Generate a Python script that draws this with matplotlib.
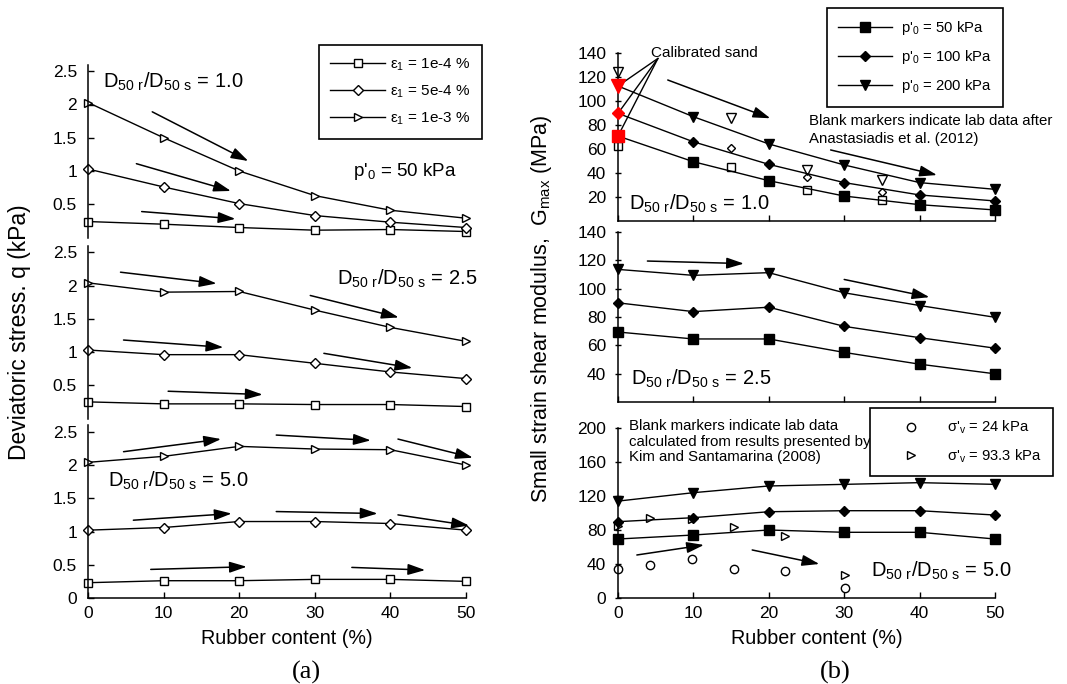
import matplotlib.pyplot as plt
from matplotlib.ticker import FormatStrFormatter

plt.rcParams['font.family'] = ['Liberation Sans', 'DejaVu Sans']
plt.rcParams['mathtext.default'] = 'regular'

rubber = [0, 10, 20, 30, 40, 50]

# deviatoric stress q (kPa), eps1 = 1e-4 / 5e-4 / 1e-3 %
q10_a = [0.24, 0.20, 0.15, 0.11, 0.12, 0.09]
q10_b = [1.03, 0.76, 0.51, 0.33, 0.23, 0.15]
q10_c = [2.03, 1.50, 1.00, 0.63, 0.41, 0.29]
q25_a = [0.25, 0.22, 0.22, 0.21, 0.21, 0.18]
q25_b = [1.03, 0.96, 0.96, 0.83, 0.70, 0.60]
q25_c = [2.04, 1.90, 1.91, 1.63, 1.37, 1.16]
q50_a = [0.23, 0.26, 0.26, 0.28, 0.28, 0.25]
q50_b = [1.02, 1.06, 1.15, 1.15, 1.12, 1.02]
q50_c = [2.04, 2.13, 2.28, 2.24, 2.23, 2.00]

# Gmax (MPa) at p'0 = 50 / 100 / 200 kPa
g10_50 = [70.8, 49.4, 33.6, 20.8, 13.6, 9.2]
g10_100 = [89.7, 66.0, 47.2, 32.0, 21.7, 16.7]
g10_200 = [112.5, 86.9, 64.2, 46.7, 32.0, 26.4]
g25_50 = [69.4, 64.5, 64.5, 55.0, 46.7, 39.9]
g25_100 = [90.0, 83.8, 86.9, 73.4, 65.4, 58.0]
g25_200 = [113.6, 109.4, 111.3, 97.1, 88.1, 79.8]
g50_50 = [69.4, 74.1, 80.0, 77.3, 77.3, 69.4]
g50_100 = [89.8, 94.5, 101.5, 102.7, 102.7, 97.6]
g50_200 = [114.0, 123.9, 131.8, 133.7, 135.7, 133.7]

# lab data, Anastasiadis et al. (2012)
an_x = [0, 15, 25, 35]
an_50 = [62.8, 45.3, 25.8, 17.5]
an_100_x = [15, 25, 35]
an_100 = [60.6, 36.4, 24.4]
an_200 = [124.4, 85.6, 42.5, 34.2]

# lab data, Kim and Santamarina (2008)
kim_x = [0, 4.3, 9.8, 15.4, 22.2, 30.1]
kim_24 = [34.1, 38.8, 45.9, 34.1, 32.2, 12.2]
kim_93 = [84.7, 94.5, 92.6, 83.2, 72.9, 27.1]

W, H = 1067, 684
fig = plt.figure(figsize=(W / 100, H / 100), dpi=100)


def box(x0, x1, ytop, ybot):
    return [x0 / W, 1 - ybot / H, (x1 - x0) / W, (ybot - ytop) / H]


def arrows(ax, segs):
    for (x0, y0), (x1, y1) in segs:
        ax.annotate('', xy=(x1, y1), xytext=(x0, y0), annotation_clip=False,
                    arrowprops=dict(arrowstyle='-|>,head_length=0.75,head_width=0.24',
                                    color='black', lw=1.1, shrinkA=0, shrinkB=0,
                                    mutation_scale=14))


def dlabel(ax, x, y, val, **kw):
    ax.text(x, y, r'D$_{50\ r}$/D$_{50\ s}$ = ' + val, fontsize=14.5, va='baseline', **kw)


# ---------- (a) deviatoric stress ----------
left_boxes = [box(88, 466, 64.6, 237.5), box(88, 466, 245.6, 418.5), box(88, 466, 425.1, 598)]
left_data = [(q10_a, q10_b, q10_c), (q25_a, q25_b, q25_c), (q50_a, q50_b, q50_c)]
left_axes = []
for i, (pos, (qa, qb, qc)) in enumerate(zip(left_boxes, left_data)):
    ax = fig.add_axes(pos)
    ax.set_facecolor('none')
    h1, = ax.plot(rubber, qa, 'k-', marker='s', ms=6, mfc='white', mec='black', mew=1, lw=1, clip_on=False)
    h2, = ax.plot(rubber, qb, 'k-', marker='D', ms=4.8, mfc='white', mec='black', mew=1, lw=1, clip_on=False)
    h3, = ax.plot(rubber, qc, 'k-', marker='>', ms=6.3, mfc='white', mec='black', mew=1, lw=1, clip_on=False)
    ax.set_xlim(0, 50)
    ax.set_ylim(0, 2.6)
    ax.spines['top'].set_visible(False)
    ax.spines['right'].set_visible(False)
    for s in ax.spines.values():
        s.set_linewidth(1.1)
    ax.yaxis.set_major_formatter(FormatStrFormatter('%g'))
    ax.tick_params(axis='y', direction='in', length=4, width=1, labelsize=12.5, pad=8)
    if i < 2:
        ax.set_yticks([0.5, 1, 1.5, 2, 2.5])
        ax.spines['bottom'].set_visible(False)
        ax.set_xticks([])
    else:
        ax.set_yticks([0, 0.5, 1, 1.5, 2, 2.5])
        ax.set_xticks(rubber)
        ax.tick_params(axis='x', direction='in', length=4, width=1, labelsize=12.5, pad=6)
    left_axes.append(ax)
    if i == 0:
        leg_handles = [h1, h2, h3]

axa, axb, axc = left_axes
dlabel(axa, 2.0, 2.25, '1.0')
axa.text(35.1, 0.93, r"p'$_0$ = 50 kPa", fontsize=13.5, va='baseline')
arrows(axa, [((8.5, 1.89), (21.2, 1.15)), ((6.4, 1.11), (18.9, 0.70)), ((7.1, 0.39), (19.5, 0.28))])

dlabel(axb, 32.9, 2.01, '2.5')
arrows(axb, [((4.3, 2.20), (17.0, 2.03)), ((29.4, 1.85), (41.1, 1.52)), ((4.7, 1.18), (17.9, 1.07)),
             ((31.2, 0.98), (42.9, 0.76)), ((10.6, 0.41), (23.1, 0.36))])

dlabel(axc, 2.6, 1.67, '5.0')
arrows(axc, [((4.7, 2.20), (17.6, 2.39)), ((24.9, 2.45), (37.4, 2.37)), ((41.0, 2.39), (50.9, 2.11)),
             ((6.0, 1.17), (19.0, 1.27)), ((24.9, 1.30), (38.3, 1.27)), ((41.0, 1.25), (50.4, 1.09)),
             ((8.3, 0.43), (21.0, 0.47)), ((34.9, 0.46), (44.6, 0.42))])

leg = fig.legend(leg_handles, [r'ε$_1$ = 1e-4 %', r'ε$_1$ = 5e-4 %', r'ε$_1$ = 1e-3 %'],
                 loc='upper left', bbox_to_anchor=(319 / W, 1 - 45 / H), fontsize=11,
                 fancybox=False, edgecolor='black', framealpha=1, handlelength=3.6,
                 handletextpad=0.3, labelspacing=0.7, borderpad=0.75, borderaxespad=0)
leg.get_frame().set_linewidth(1.2)

fig.text(20 / W, 1 - 332 / H, 'Deviatoric stress. q (kPa)', rotation=90, fontsize=16.5,
         ha='center', va='center')
fig.text(287 / W, 1 - 638 / H, 'Rubber content (%)', fontsize=14.2, ha='center', va='center')
fig.text(306 / W, 1 - 672 / H, '(a)', fontsize=19, ha='center', va='center', family='Liberation Serif')

# ---------- (b) small strain shear modulus ----------
right_boxes = [box(618, 995, 53, 221), box(618, 995, 232, 402), box(618, 995, 428, 598)]
right_data = [(g10_50, g10_100, g10_200), (g25_50, g25_100, g25_200), (g50_50, g50_100, g50_200)]
right_ylim = [(0, 140), (20, 140), (0, 200)]
right_ticks = [range(20, 141, 20), range(40, 141, 20), range(0, 201, 40)]
right_axes = []
for i, (pos, (g1, g2, g3)) in enumerate(zip(right_boxes, right_data)):
    ax = fig.add_axes(pos)
    ax.set_facecolor('none')
    p1, = ax.plot(rubber, g1, 'k-', marker='s', ms=6.5, mfc='black', mec='black', lw=1, clip_on=False, zorder=3)
    p2, = ax.plot(rubber, g2, 'k-', marker='D', ms=4.8, mfc='black', mec='black', lw=1, clip_on=False, zorder=3)
    p3, = ax.plot(rubber, g3, 'k-', marker='v', ms=7.3, mfc='black', mec='black', lw=1, clip_on=False, zorder=3)
    ax.set_xlim(0, 50)
    ax.set_ylim(*right_ylim[i])
    ax.set_yticks(list(right_ticks[i]))
    ax.set_xticks(rubber)
    ax.spines['top'].set_visible(False)
    ax.spines['right'].set_visible(False)
    for s in ax.spines.values():
        s.set_linewidth(1.1)
    ax.tick_params(axis='y', direction='inout', length=5, width=1, labelsize=12.5, pad=6)
    ax.tick_params(axis='x', direction='in', length=4, width=1, labelsize=12.5, pad=6)
    if i < 2:
        ax.tick_params(axis='x', labelbottom=False)
    right_axes.append(ax)
    if i == 0:
        g_handles = [p1, p2, p3]

axd, axe, axf = right_axes

# calibrated sand points drawn in red
axd.plot(rubber[0], g10_50[0], 's', ms=9, color='red', clip_on=False, zorder=5)
axd.plot(rubber[0], g10_100[0], 'D', ms=6.2, color='red', clip_on=False, zorder=5)
axd.plot(rubber[0], g10_200[0], 'v', ms=10.5, color='red', clip_on=False, zorder=5)
axd.plot(an_x, an_50, 's', ms=6, mfc='white', mec='black', mew=1, clip_on=False, zorder=2)
axd.plot(an_100_x, an_100, 'D', ms=4.5, mfc='white', mec='black', mew=1, clip_on=False, zorder=2)
axd.plot(an_x, an_200, 'v', ms=6.8, mfc='white', mec='black', mew=1, clip_on=False, zorder=2)
axd.text(4.4, 137, 'Calibrated sand', fontsize=11, va='baseline')
for gv in (g10_200, g10_100, g10_50):
    axd.annotate('', xy=(rubber[0], gv[0]), xytext=(5.3, 135.5), annotation_clip=False,
                 arrowprops=dict(arrowstyle='-', color='black', lw=1, shrinkA=0, shrinkB=0))
axd.text(25.3, 89, 'Blank markers indicate lab data after\nAnastasiadis et al. (2012)',
         fontsize=10.8, va='top', linespacing=1.35)
dlabel(axd, 1.45, 9.2, '1.0')
arrows(axd, [((6.6, 117.5), (20.2, 85.6)), ((28.2, 59.2), (42.3, 38.3))])

dlabel(axe, 1.7, 32, '2.5')
arrows(axe, [((3.9, 119.5), (16.7, 117.7)), ((30.0, 106.5), (41.3, 94.0))])

c1, = axf.plot(kim_x, kim_24, 'o', ms=6, mfc='white', mec='black', mew=1, clip_on=False, zorder=2)
c2, = axf.plot(kim_x, kim_93, '>', ms=5.2, mfc='white', mec='black', mew=1, clip_on=False, zorder=2)
axf.text(1.4, 210, 'Blank markers indicate lab data\ncalculated from results presented by\n'
         'Kim and Santamarina (2008)', fontsize=10.8, va='top', linespacing=1.1)
dlabel(axf, 33.5, 25, '5.0')
arrows(axf, [((2.5, 50.6), (11.4, 62.4)), ((17.8, 56.5), (26.7, 40.0))])

leg2 = fig.legend(g_handles, [r"p'$_0$ = 50 kPa", r"p'$_0$ = 100 kPa", r"p'$_0$ = 200 kPa"],
                  loc='upper left', bbox_to_anchor=(827 / W, 1 - 8 / H), fontsize=10.7,
                  fancybox=False, edgecolor='black', framealpha=1, handlelength=3.6,
                  handletextpad=0.6, labelspacing=0.75, borderpad=0.75, borderaxespad=0)
leg2.get_frame().set_linewidth(1.2)

leg3 = fig.legend([c1, c2], [r"σ'$_v$ = 24 kPa", r"σ'$_v$ = 93.3 kPa"],
                  loc='upper left', bbox_to_anchor=(870 / W, 1 - 408 / H), fontsize=10.6,
                  fancybox=False, edgecolor='black', framealpha=1, handlelength=4.1,
                  handletextpad=0.4, labelspacing=0.75, borderpad=0.75, borderaxespad=0,
                  numpoints=1)
leg3.get_frame().set_linewidth(1.2)

fig.text(542 / W, 1 - 309 / H, r'Small strain shear modulus,  G$_{max}$ (MPa)', rotation=90,
         fontsize=15.5, ha='center', va='center')
fig.text(817 / W, 1 - 638 / H, 'Rubber content (%)', fontsize=14.2, ha='center', va='center')
fig.text(835 / W, 1 - 672 / H, '(b)', fontsize=19, ha='center', va='center', family='Liberation Serif')

fig.savefig('out.png', dpi=100)
